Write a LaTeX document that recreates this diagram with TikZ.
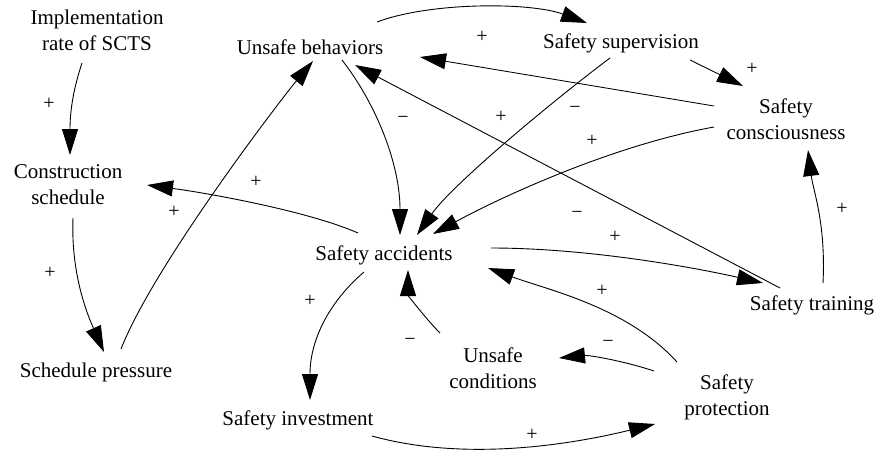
\documentclass[tikz,border=0pt]{standalone}
\usepackage{fontspec}
\setmainfont{Liberation Serif}
\usetikzlibrary{arrows.meta}
\begin{document}
\begin{tikzpicture}[x=1pt,y=-1pt,
  var/.style={inner sep=0pt,align=center,font=\fontsize{21}{26}\selectfont},
  sgn/.style={inner sep=0pt,font=\fontsize{20}{22}\selectfont},
  arr/.style={line width=0.9pt,-{Triangle[length=26pt,width=16pt]}}]
\useasboundingbox (0,0) rectangle (874,453);
% variables
\node[var] (impl) at (97,30) {Implementation\\rate of SCTS};
\node[var] (ub) at (310,47) {Unsafe behaviors};
\node[var] (ss) at (621,43) {Safety supervision};
\node[var] (sc) at (786,119) {Safety\\consciousness};
\node[var] (cs) at (68,185) {Construction\\schedule};
\node[var] (sp) at (96,372) {Schedule pressure};
\node[var] (sa) at (384,255) {Safety accidents};
\node[var] (si) at (298,420) {Safety investment};
\node[var] (uc) at (493,368) {Unsafe\\conditions};
\node[var] (sprot) at (727,397) {Safety\\protection};
\node[var] (st) at (812,305) {Safety training};
% links
\draw[arr] ([shift={(67,-25)}]ub.center) .. controls +(53,-20) and +(-57,-21) .. ([shift={(-34,-20)}]ss.center);
\draw[arr] ([shift={(69,17)}]ss.center) -- ([shift={(-43,-33)}]sc.center);
\draw[arr] ([shift={(-72,-13)}]sc.center) -- ([shift={(110,10)}]ub.center);
\draw[arr] ([shift={(-11,15)}]ss.center) .. controls +(-60,45) and +(35,-50) .. ([shift={(33,-20)}]sa.center);
\draw[arr] ([shift={(-72,8)}]sc.center) .. controls +(-100,18) and +(70,-38) .. ([shift={(49,-21)}]sa.center);
\draw[arr] ([shift={(32,13)}]ub.center) .. controls +(35,45) and +(0,-70) .. ([shift={(16,-20)}]sa.center);
\draw[arr] ([shift={(-26,-22)}]sa.center) .. controls +(-50,-22) and +(60,8) .. ([shift={(79,0)}]cs.center);
\draw[arr] ([shift={(25,-23)}]sp.center) .. controls +(32,-82) and +(-35,42) .. ([shift={(3,14)}]ub.center);
\draw[arr] ([shift={(-15,33)}]impl.center) .. controls +(-10,30) and +(0,-40) .. ([shift={(2,-30)}]cs.center);
\draw[arr] ([shift={(5,33)}]cs.center) .. controls +(-2,50) and +(-20,-45) .. ([shift={(8,-20)}]sp.center);
\draw[arr] ([shift={(-20,17)}]sa.center) .. controls +(-35,30) and +(0,-60) .. ([shift={(12,-20)}]si.center);
\draw[arr] ([shift={(74,16)}]si.center) .. controls +(90,25) and +(-90,22) .. ([shift={(-72,27)}]sprot.center);
\draw[arr] ([shift={(-73,-26)}]sprot.center) .. controls +(-30,-10) and +(30,-3) .. ([shift={(66,-10)}]uc.center);
\draw[arr] ([shift={(-50,-35)}]sprot.center) .. controls +(-50,-55) and +(60,22) .. ([shift={(104,13)}]sa.center);
\draw[arr] ([shift={(-53,-35)}]uc.center) .. controls +(-15,-15) and +(0,25) .. ([shift={(24,15)}]sa.center);
\draw[arr] ([shift={(107,-7)}]sa.center) .. controls +(90,0) and +(-80,-18) .. ([shift={(-49,-22)}]st.center);
\draw[arr] ([shift={(-32,-17)}]st.center) -- ([shift={(45,18)}]ub.center);
\draw[arr] ([shift={(11,-22)}]st.center) .. controls +(3,-60) and +(5,40) .. ([shift={(22,31)}]sc.center);
% polarity signs
\node[sgn] (s1) at (49,104) {+};
\node[sgn] (s2) at (256,182) {+};
\node[sgn] (s3) at (174,212) {+};
\node[sgn] (s4) at (50,273) {+};
\node[sgn] (s5) at (482,37) {+};
\node[sgn] (s6) at (752,69) {+};
\node[sgn] (s7) at (403,120) {−};
\node[sgn] (s8) at (501,117) {+};
\node[sgn] (s9) at (575,110) {−};
\node[sgn] (s10) at (592,141) {+};
\node[sgn] (s11) at (577,215) {−};
\node[sgn] (s12) at (842,209) {+};
\node[sgn] (s13) at (615,237) {+};
\node[sgn] (s14) at (602,291) {+};
\node[sgn] (s15) at (608,344) {−};
\node[sgn] (s16) at (410,342) {−};
\node[sgn] (s17) at (310,301) {+};
\node[sgn] (s18) at (532,435) {+};
\end{tikzpicture}
\end{document}
